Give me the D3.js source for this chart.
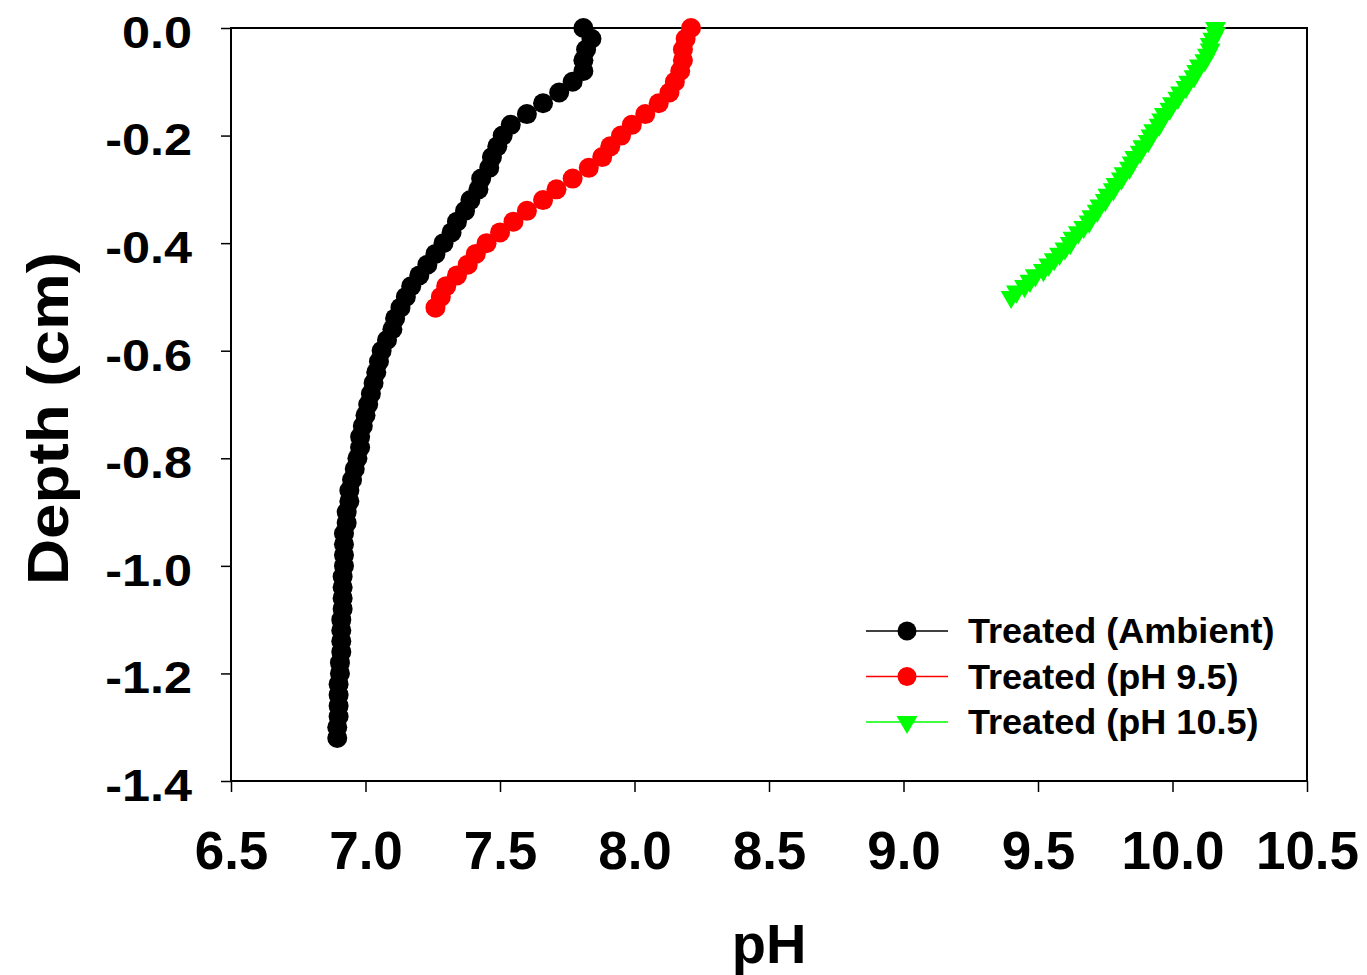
<!DOCTYPE html>
<html lang="en">
<head>
<meta charset="UTF-8">
<title>pH depth profile</title>
<script src="https://d3js.org/d3.v7.min.js"></script>
<style>
  body { margin: 0; background: #fff; }
  text { font-family: "Liberation Sans", Arial, sans-serif; font-weight: bold; fill: #000; }
</style>
</head>
<body>
<svg id="chart" width="1367" height="975"></svg>
<script>
// depth (cm) and pH readings for each profile
const ambientDepth = [0.00, -0.02, -0.04, -0.06, -0.08, -0.10, -0.12, -0.14, -0.16, -0.18, -0.20, -0.22, -0.24, -0.26, -0.28, -0.30, -0.32, -0.34, -0.36, -0.38, -0.40, -0.42, -0.44, -0.46, -0.48, -0.50, -0.52, -0.54, -0.56, -0.58, -0.60, -0.62, -0.64, -0.66, -0.68, -0.70, -0.72, -0.74, -0.76, -0.78, -0.80, -0.82, -0.84, -0.86, -0.88, -0.90, -0.92, -0.94, -0.96, -0.98, -1.00, -1.02, -1.04, -1.06, -1.08, -1.10, -1.12, -1.14, -1.16, -1.18, -1.20, -1.22, -1.24, -1.26, -1.28, -1.30, -1.32];
const ambientPH = [7.81, 7.84, 7.82, 7.81, 7.81, 7.77, 7.72, 7.66, 7.60, 7.54, 7.51, 7.49, 7.47, 7.46, 7.43, 7.42, 7.39, 7.37, 7.34, 7.32, 7.29, 7.26, 7.23, 7.20, 7.17, 7.15, 7.13, 7.11, 7.10, 7.08, 7.06, 7.05, 7.04, 7.03, 7.02, 7.01, 7.00, 6.99, 6.98, 6.98, 6.97, 6.96, 6.95, 6.94, 6.94, 6.93, 6.93, 6.92, 6.92, 6.92, 6.92, 6.915, 6.915, 6.915, 6.915, 6.91, 6.91, 6.91, 6.91, 6.905, 6.905, 6.90, 6.90, 6.90, 6.90, 6.895, 6.895];

const ph95Depth = [0.00, -0.02, -0.04, -0.06, -0.08, -0.10, -0.12, -0.14, -0.16, -0.18, -0.20, -0.22, -0.24, -0.26, -0.28, -0.30, -0.32, -0.34, -0.36, -0.38, -0.40, -0.42, -0.44, -0.46, -0.48, -0.50, -0.52];
const ph95PH = [8.21, 8.19, 8.18, 8.18, 8.17, 8.15, 8.13, 8.09, 8.04, 7.99, 7.95, 7.91, 7.88, 7.83, 7.77, 7.71, 7.66, 7.60, 7.55, 7.50, 7.45, 7.41, 7.38, 7.34, 7.30, 7.28, 7.26];

const ph105Depth = [0.00, -0.01, -0.02, -0.03, -0.04, -0.05, -0.06, -0.07, -0.08, -0.09, -0.10, -0.11, -0.12, -0.13, -0.14, -0.15, -0.16, -0.17, -0.18, -0.19, -0.20, -0.21, -0.22, -0.23, -0.24, -0.25, -0.26, -0.27, -0.28, -0.29, -0.30, -0.31, -0.32, -0.33, -0.34, -0.35, -0.36, -0.37, -0.38, -0.39, -0.40, -0.41, -0.42, -0.43, -0.44, -0.45, -0.46, -0.47, -0.48, -0.49, -0.50];
const ph105PH = [10.16, 10.16, 10.15, 10.14, 10.14, 10.13, 10.12, 10.10, 10.09, 10.08, 10.06, 10.05, 10.03, 10.02, 10.00, 9.99, 9.97, 9.96, 9.95, 9.93, 9.92, 9.91, 9.89, 9.88, 9.86, 9.85, 9.84, 9.82, 9.81, 9.79, 9.78, 9.76, 9.75, 9.73, 9.72, 9.70, 9.69, 9.67, 9.65, 9.63, 9.62, 9.60, 9.58, 9.56, 9.54, 9.52, 9.49, 9.47, 9.45, 9.42, 9.40];

const xTicks = [6.5, 7.0, 7.5, 8.0, 8.5, 9.0, 9.5, 10.0, 10.5];
const yTicks = [0.0, -0.2, -0.4, -0.6, -0.8, -1.0, -1.2, -1.4];

const seriesNames = ["Treated (Ambient)", "Treated (pH 9.5)", "Treated (pH 10.5)"];
const seriesColors = ["#000000", "#ff0000", "#00ff00"];
const seriesShapes = ["circle", "circle", "triangle"];

const series = [
  { depth: ambientDepth, ph: ambientPH },
  { depth: ph95Depth, ph: ph95PH },
  { depth: ph105Depth, ph: ph105PH }
].map((s, i) => ({
  name: seriesNames[i],
  color: seriesColors[i],
  shape: seriesShapes[i],
  points: s.depth.map((d, j) => ({ depth: d, ph: s.ph[j] }))
}));

const plotLeft = 231, plotRight = 1307, plotTop = 28, plotBottom = 781;

const svg = d3.select("#chart");

const x = d3.scaleLinear().domain([6.5, 10.5]).range([plotLeft, plotRight]);
const y = d3.scaleLinear().domain([-1.4, 0]).range([plotBottom, plotTop]);

// frame
svg.append("rect")
  .attr("x", plotLeft).attr("y", plotTop)
  .attr("width", plotRight - plotLeft).attr("height", plotBottom - plotTop)
  .attr("fill", "none").attr("stroke", "#000").attr("stroke-width", 2);

const xAxis = svg.append("g")
  .attr("transform", `translate(0,${plotBottom})`)
  .call(d3.axisBottom(x).tickValues(xTicks).tickSize(11).tickFormat(d3.format(".1f")));
xAxis.select(".domain").remove();
xAxis.selectAll("line").attr("stroke-width", 1.5);
xAxis.selectAll("text")
  .attr("y", 88).attr("dy", 0)
  .style("font-size", "53px")
  .style("font-family", "'Liberation Sans', Arial, sans-serif")
  .style("font-weight", "bold");

const yAxis = svg.append("g")
  .attr("transform", `translate(${plotLeft},0)`)
  .call(d3.axisLeft(y).tickValues(yTicks).tickSize(10).tickPadding(29)
    .tickFormat(d => d3.format(".1f")(d).replace("−", "-")));
yAxis.select(".domain").remove();
yAxis.selectAll("line").attr("stroke-width", 1.5);
yAxis.selectAll("text")
  .attr("dy", "0.43em")
  .style("font-size", "45px")
  .style("font-family", "'Liberation Sans', Arial, sans-serif")
  .style("font-weight", "bold")
  .each(function () {
    const w = this.getComputedTextLength();
    d3.select(this).attr("textLength", w * 1.12).attr("lengthAdjust", "spacingAndGlyphs");
  });

// axis titles
svg.append("text")
  .attr("x", (plotLeft + plotRight) / 2).attr("y", 963)
  .attr("text-anchor", "middle")
  .style("font-size", "56px")
  .text("pH");

svg.append("text")
  .attr("transform", `translate(68,${(plotTop + plotBottom) / 2 + 14}) rotate(-90)`)
  .attr("text-anchor", "middle")
  .style("font-size", "58px")
  .attr("textLength", 333).attr("lengthAdjust", "spacingAndGlyphs")
  .text("Depth (cm)");

const line = d3.line().x(d => x(d.ph)).y(d => y(d.depth));
const tri = d3.symbol().type(d3.symbolTriangle).size(190);

function drawMarker(sel, shape, color, r) {
  if (shape === "circle") {
    sel.append("circle").attr("r", r).attr("fill", color);
  } else {
    sel.append("path").attr("d", tri()).attr("transform", "rotate(180)").attr("fill", color);
  }
}

series.forEach(s => {
  svg.append("path")
    .datum(s.points)
    .attr("fill", "none")
    .attr("stroke", s.color)
    .attr("stroke-width", 1)
    .attr("d", line);
  const g = svg.append("g");
  s.points.forEach(p => {
    const m = g.append("g").attr("transform", `translate(${x(p.ph)},${y(p.depth)})`);
    drawMarker(m, s.shape, s.color, 10);
  });
});

// legend
const legend = svg.append("g").attr("transform", "translate(866,631)");
series.forEach((s, i) => {
  const row = legend.append("g").attr("transform", `translate(0,${i * 45.5})`);
  row.append("line").attr("x1", 0).attr("x2", 82).attr("y1", 0).attr("y2", 0)
    .attr("stroke", s.color).attr("stroke-width", 1.5);
  const m = row.append("g").attr("transform", "translate(41,0)");
  drawMarker(m, s.shape, s.color, 9.5);
  row.append("text").attr("x", 102).attr("y", 12)
    .style("font-size", "35px")
    .each(function () {
      d3.select(this).text(s.name);
      const w = this.getComputedTextLength();
      d3.select(this).attr("textLength", w * 1.03).attr("lengthAdjust", "spacingAndGlyphs");
    });
});
</script>
</body>
</html>
